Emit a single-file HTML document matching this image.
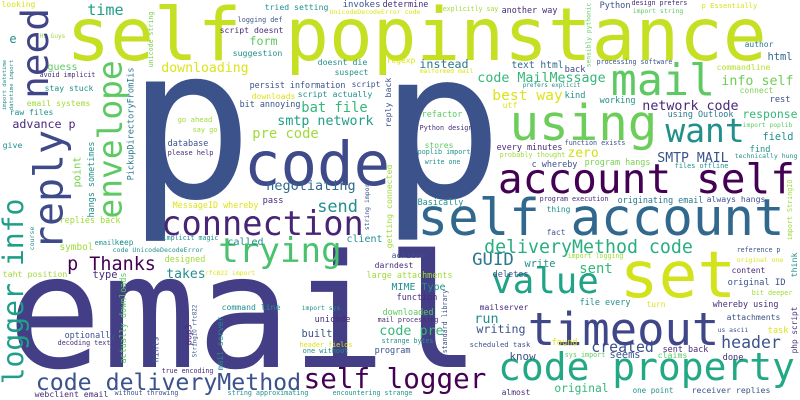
<!DOCTYPE html>
<html><head><meta charset="utf-8">
<style>
html,body{margin:0;padding:0;background:#fff;width:800px;height:400px;overflow:hidden}
svg{display:block}
text{font-family:"DejaVu Sans Mono","Liberation Mono",monospace}
</style></head>
<body>
<svg id="cloud" width="800" height="400" viewBox="0 0 800 400" xmlns="http://www.w3.org/2000/svg">
<rect width="800" height="400" fill="#fff"/>
</svg>
<script>
// horizontal words: text, ink-left, baseline, ink-right, colour
const hWords = [
["email",15,367,473,"#433e85"],
["p",137,197,243,"#3b528b"],
["p",390,197,493,"#3b528b"],
["self popinstance",70,60,763,"#c5df23"],
["code",247,185,387,"#3e4a89"],
["account self",500,193,793,"#440154"],
["self account",420,235,782,"#31688e"],
["set",623,297,733,"#d2e21b"],
["value",493,293,597,"#20a386"],
["timeout",530,345,717,"#3f4788"],
["code property",500,380,793,"#22a884"],
["using",512,140,655,"#6ccd5a"],
["mail",613,95,713,"#5ec962"],
["want",667,142,743,"#21908d"],
["connection",163,235,362,"#482475"],
["trying",220,262,340,"#4ac16d"],
["self logger",305,388,485,"#440154"],
["code deliveryMethod",37,390,300,"#3b528b"],
["deliveryMethod code",485,253,692,"#29af7f"],
["p Thanks",68,270,155,"#440154"],
["GUID",473,265,513,"#2a788e"],
["run",475,323,498,"#21908d"],
["header",722,348,780,"#3b528b"],
["created",592,352,653,"#3b528b"],
["code pre",380,335,443,"#35b779"],
["network code",643,110,738,"#482878"],
["code MailMessage",478,82,605,"#35b779"],
["info self",722,85,793,"#6ece58"],
["best way",493,100,562,"#dde318"],
["downloading",162,72,248,"#dde318"],
["bat file",302,112,367,"#35b779"],
["smtp network",278,125,373,"#1f9e89"],
["pre code",253,138,318,"#a0da39"],
["negotiating",267,190,355,"#31688e"],
["send",318,212,357,"#21908d"],
["takes",167,278,205,"#21908d"],
["instead",420,68,468,"#2a788e"],
["SMTP MAIL",658,162,728,"#3b528b"],
["zero",568,157,598,"#d0e11c"],
["sent",580,273,612,"#35b779"],
["time",88,15,123,"#1f9e89"],
["advance p",13,128,75,"#482878"],
["original",555,392,608,"#35b779"],
["response",743,118,797,"#35b779"],
["form",250,45,277,"#5ec962"],
["built",302,337,332,"#3b528b"],
["writing",477,333,525,"#3b528b"],
["another way",502,13,557,"#472c7a"],
["Python",600,8,630,"#3b528b"],
["design prefers",632,5,687,"#472c7a"],
["import string",633,13,683,"#5ec962"],
["p Essentially",702,8,757,"#d8e219"],
["author",745,47,773,"#2a788e"],
["html",768,60,792,"#31688e"],
["text html",512,68,563,"#31688e"],
["back",565,72,585,"#3e4a89"],
["processing software",597,64,672,"#3b528b"],
["commandline",717,70,770,"#b5de2b"],
["kind",565,98,585,"#21908d"],
["connect",740,93,773,"#7ad151"],
["working",600,103,635,"#21908d"],
["rest",770,102,790,"#3b528b"],
["utf",503,108,517,"#dde318"],
["prefers explicit",523,87,580,"#21908d"],
["using Outlook",668,117,733,"#2a788e"],
["import poplib",743,127,792,"#5ec962"],
["field",763,140,793,"#21908d"],
["every minutes",497,150,562,"#472c7a"],
["function exists",565,145,625,"#3b528b"],
["probably thought",500,157,565,"#a0da39"],
["find",750,152,770,"#21908d"],
["technically hung",735,158,797,"#21908d"],
["c whereby",532,167,577,"#3b528b"],
["program hangs",585,165,650,"#7ad151"],
["files offline",675,168,728,"#21908d"],
["program execution",540,201,608,"#472c7a"],
["originating email",618,203,703,"#2a788e"],
["always hangs",707,202,765,"#3b528b"],
["thing",547,212,570,"#21908d"],
["fact",547,235,565,"#3b528b"],
["reference p",737,252,780,"#3b528b"],
["import logging",568,258,623,"#a0da39"],
["original one",737,262,783,"#dde318"],
["write",525,267,555,"#21908d"],
["deletes",493,277,528,"#3b528b"],
["content",732,273,765,"#472c7a"],
["original ID",728,285,785,"#3b528b"],
["bit deeper",752,295,792,"#a0da39"],
["mailserver",480,310,528,"#472c7a"],
["file every",580,305,630,"#21908d"],
["turn",647,307,665,"#dde318"],
["whereby using",713,307,778,"#472c7a"],
["attachments",727,320,780,"#3b528b"],
["us ascii",718,332,748,"#3b528b"],
["task",768,333,788,"#dde318"],
["scheduled task",470,347,530,"#3b528b"],
["found",552,345,577,"#dde318"],
["sent back",663,352,708,"#472c7a"],
["know",510,360,535,"#3b528b"],
["seems",610,358,640,"#3b528b"],
["sys import",565,357,605,"#5ec962"],
["claims",658,358,687,"#5ec962"],
["done",723,360,743,"#472c7a"],
["almost",502,395,530,"#472c7a"],
["one point",633,393,673,"#21908d"],
["receiver replies",692,393,770,"#3b528b"],
["tried setting",265,10,328,"#21908d"],
["invokes",343,7,380,"#3b528b"],
["determine",383,7,428,"#472c7a"],
["UnicodeDecodeError code",330,14,420,"#dde318"],
["explicitly say",443,11,498,"#a0da39"],
["logging def",238,22,282,"#3b528b"],
["script doesnt",220,33,283,"#472c7a"],
["suggestion",233,56,282,"#21908d"],
["doesnt die",318,65,367,"#21908d"],
["regexp",387,63,415,"#dde318"],
["malformed mail",420,73,473,"#dde318"],
["suspect",335,75,368,"#21908d"],
["persist information",250,88,345,"#3b528b"],
["script",352,87,380,"#3b528b"],
["script actually",298,97,372,"#21908d"],
["downloads",252,99,295,"#dde318"],
["bit annoying",240,107,300,"#3b528b"],
["refactor",422,117,462,"#5ec962"],
["go ahead",178,122,212,"#a0da39"],
["say go",193,132,217,"#a0da39"],
["Python design",420,130,472,"#472c7a"],
["database",168,146,208,"#3b528b"],
["please help",168,155,213,"#472c7a"],
["stores",425,148,453,"#5ec962"],
["poplib import",418,154,470,"#21908d"],
["write one",425,164,460,"#21908d"],
["MessageID whereby",173,208,258,"#dde318"],
["pass",263,203,283,"#472c7a"],
["Basically",418,205,463,"#21908d"],
["implicit magic",163,240,218,"#21908d"],
["called",228,245,263,"#21908d"],
["client",347,242,382,"#21908d"],
["code UnicodeDecodeError",113,252,203,"#21908d"],
["keep",115,245,133,"#21908d"],
["designed",165,262,205,"#a0da39"],
["achieve",392,258,425,"#3b528b"],
["darndest",375,268,413,"#472c7a"],
["rfc822 import",205,275,255,"#dde318"],
["large attachments",367,278,452,"#a0da39"],
["MIME Type",392,290,445,"#21908d"],
["function",397,300,437,"#472c7a"],
["command line",222,310,280,"#21908d"],
["import sys",302,310,340,"#21908d"],
["downloaded",383,315,433,"#5ec962"],
["unicode",315,322,350,"#472c7a"],
["mail processing",378,322,438,"#472c7a"],
["strange bytes",382,343,433,"#21908d"],
["header fields",300,347,352,"#dde318"],
["one without",303,353,348,"#21908d"],
["program",375,353,410,"#3b528b"],
["e",10,43,16,"#21908d"],
["looking",2,7,35,"#dde318"],
["Hi Guys",40,38,65,"#a0da39"],
["avoid implicit",40,77,95,"#472c7a"],
["guess",48,70,77,"#5ec962"],
["stay stuck",45,91,93,"#21908d"],
["email systems",27,106,90,"#a0da39"],
["raw files",10,115,53,"#21908d"],
["give",3,148,22,"#21908d"],
["replies back",60,223,120,"#a0da39"],
["email c",95,245,123,"#21908d"],
["symbol",60,250,93,"#a0da39"],
["taht position",3,277,67,"#a0da39"],
["type",93,278,117,"#472c7a"],
["optionally",65,338,115,"#3b528b"],
["decoding text",58,345,110,"#472c7a"],
["webclient email",35,397,108,"#472c7a"],
["without throwing",115,395,178,"#3b528b"],
["true encoding",162,373,213,"#472c7a"],
["string approximating",228,395,308,"#21908d"],
["encountering strange",333,395,412,"#21908d"]
];
// vertical words (read bottom-to-top): text, ink-left x, bottom y, top y, colour
const vWords = [
["need",20,97,10,"#414487"],
["reply",33,248,132,"#3e4a89"],
["envelope",97,217,62,"#5ec962"],
["point",73,187,157,"#7ad151"],
["hangs sometimes",88,217,142,"#21908d"],
["logger info",2,383,200,"#1f9e89"],
["course",29,250,227,"#21908d"],
["PickupDirectoryFromIis",127,180,68,"#2a788e"],
["reply back",385,127,78,"#3b528b"],
["string import",364,230,180,"#3b528b"],
["getting connected",386,248,165,"#a0da39"],
["standard library",442,353,290,"#3b528b"],
["pop3",185,345,325,"#472c7a"],
["StringIO rfc822",192,357,305,"#3b528b"],
["mail server",217,370,317,"#21908d"],
["hints",152,362,337,"#3b528b"],
["actually downloads",120,363,273,"#5ec962"],
["unicode string",148,67,12,"#7ad151"],
["sensibly pythonic",586,67,3,"#5ec962"],
["import StringIO",787,240,180,"#a0da39"],
["think",791,277,253,"#21908d"],
["php script",791,353,307,"#472c7a"],
["import datetime",2,110,60,"#21908d"],
["datetime import",9,110,60,"#21908d"]
];
const NS = "http://www.w3.org/2000/svg";
const svg = document.getElementById("cloud");
function slug(s){return s.toLowerCase().replace(/[^a-z0-9]+/g,"-").replace(/^-|-$/g,"");}
function fsFor(n, w){ return w / (0.602*n - 0.1); }
hWords.forEach(function(d){
  const n = d[0].length, w = d[3]-d[1];
  const fs = fsFor(n, w);
  const t = document.createElementNS(NS,"text");
  t.setAttribute("x", (d[1]-0.05*fs).toFixed(1));
  t.setAttribute("y", d[2]);
  t.setAttribute("font-size", fs.toFixed(1));
  t.setAttribute("fill", d[4]);
  t.setAttribute("textLength", (w+0.1*fs).toFixed(1));
  t.setAttribute("lengthAdjust","spacingAndGlyphs");
  
  
  t.textContent = d[0];
  svg.appendChild(t);
});
vWords.forEach(function(d){
  const n = d[0].length, w = d[2]-d[3];
  const fs = fsFor(n, w);
  const bx = d[1] + 0.74*fs;
  const t = document.createElementNS(NS,"text");
  t.setAttribute("transform","translate("+bx.toFixed(1)+","+d[2]+") rotate(-90)");
  t.setAttribute("x", (-0.05*fs).toFixed(1));
  t.setAttribute("y", 0);
  t.setAttribute("font-size", fs.toFixed(1));
  t.setAttribute("fill", d[4]);
  t.setAttribute("textLength", (w+0.1*fs).toFixed(1));
  t.setAttribute("lengthAdjust","spacingAndGlyphs");
  
  
  t.textContent = d[0];
  svg.appendChild(t);
});
</script>
</body></html>
